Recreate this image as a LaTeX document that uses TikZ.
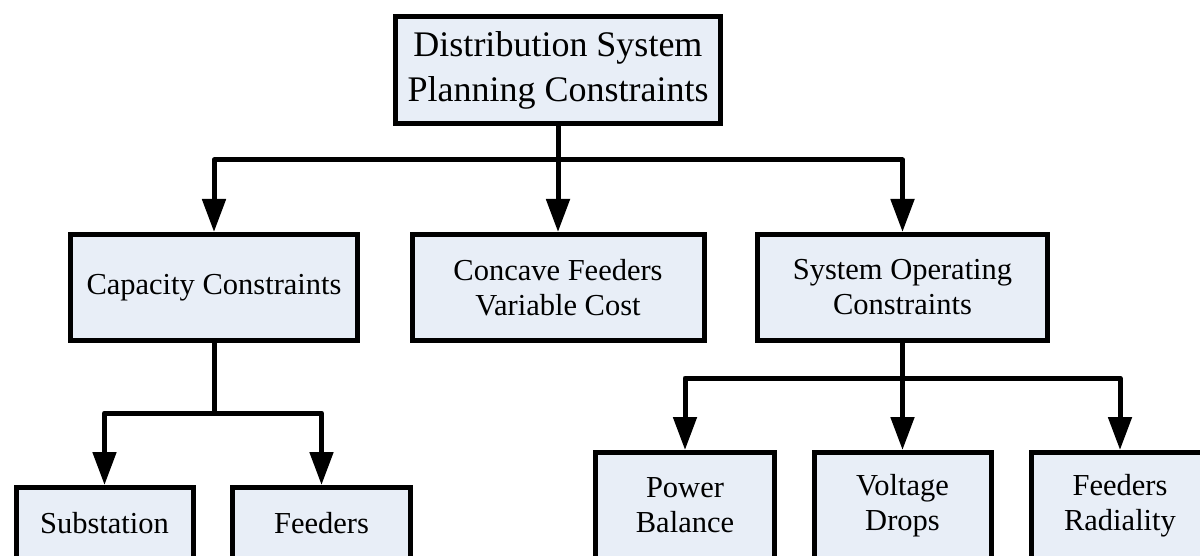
\documentclass[tikz,border=0pt]{standalone}
\usepackage{fontspec}
\setmainfont{Liberation Serif}
\usetikzlibrary{arrows.meta}
\definecolor{boxfill}{RGB}{232,238,247}
\tikzset{
  box/.style={draw=black, line width=5pt, fill=boxfill, inner sep=0pt, align=center,
    font=\fontsize{30.5}{35}\selectfont},
  arr/.style={line width=5pt, line join=round, -{Triangle[length=33pt,width=23pt]}},
  conn/.style={line width=5pt, line join=round}
}
\begin{document}
\begin{tikzpicture}[x=1pt,y=-1pt]
\useasboundingbox (0,0) rectangle (1200,556);
% level 1
\node[box, minimum width=325pt, minimum height=107pt, font=\fontsize{36}{45}\selectfont] (top) at (558,70)
  {Distribution System\\Planning Constraints};
% level 2
\node[box, minimum width=287pt, minimum height=106pt] (cap) at (214,287.5) {Capacity Constraints};
\node[box, minimum width=292pt, minimum height=106pt] (conc) at (558,287.5) {Concave Feeders\\Variable Cost};
\node[box, minimum width=290pt, minimum height=106pt] (sys) at (902.5,287.5) {System Operating\\Constraints};
% level 3 left
\node[box, minimum width=177pt, minimum height=71pt] (sub) at (104.5,523) {Substation};
\node[box, minimum width=178pt, minimum height=71pt] (fee) at (321.5,523) {Feeders};
% level 3 right
\node[box, minimum width=179pt, minimum height=106pt] (pow) at (685,505.5) {Power\\Balance};
\node[box, minimum width=177pt, minimum height=106pt] (vol) at (902.5,505.5) {Voltage\\Drops};
\node[box, minimum width=177pt, minimum height=106pt] (rad) at (1120,505.5) {Feeders\\Radiality};
% junctions
\coordinate (j1) at (558,160);
\coordinate (j2) at (214,413);
\coordinate (j3) at (902.5,378);
% connectors
\draw[conn] (top.south) -- (j1);
\draw[arr] (j1) -| (cap.north);
\draw[arr] (j1) -- (conc.north);
\draw[arr] (j1) -| (sys.north);
\draw[conn] (cap.south) -- (j2);
\draw[arr] (j2) -| (sub.north);
\draw[arr] (j2) -| (fee.north);
\draw[conn] (sys.south) -- (j3);
\draw[arr] (j3) -| (pow.north);
\draw[arr] (j3) -- (vol.north);
\draw[arr] (j3) -| (rad.north);
\end{tikzpicture}
\end{document}
